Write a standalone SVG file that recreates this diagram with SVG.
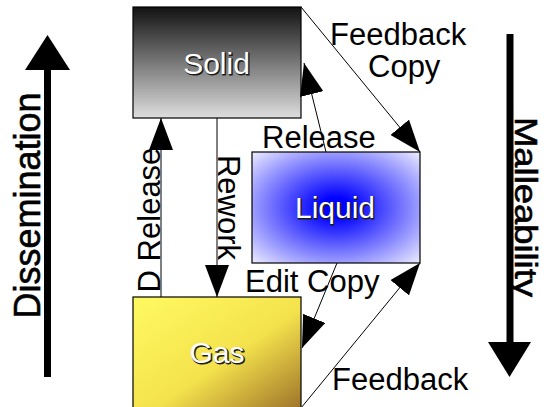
<svg xmlns="http://www.w3.org/2000/svg" width="546" height="407" viewBox="0 0 546 407">
  <defs>
    <linearGradient id="solidFill" x1="0" y1="0" x2="0" y2="1">
      <stop offset="0" stop-color="#121212"/>
      <stop offset="1" stop-color="#dedede"/>
    </linearGradient>
    <radialGradient id="liquidFill" cx="0.5" cy="0.5" r="0.72">
      <stop offset="0" stop-color="#0000ff"/>
      <stop offset="0.12" stop-color="#0000ff"/>
      <stop offset="1" stop-color="#f2f2ff"/>
    </radialGradient>
    <linearGradient id="gasFill" x1="0" y1="0" x2="1" y2="1">
      <stop offset="0" stop-color="#fffa62"/>
      <stop offset="0.55" stop-color="#f4e24c"/>
      <stop offset="1" stop-color="#9c7028"/>
    </linearGradient>
    <marker id="head" markerUnits="userSpaceOnUse" markerWidth="32" markerHeight="24" refX="32" refY="12" orient="auto">
      <path d="M0,0 L32,12 L0,24 Z" fill="#000"/>
    </marker>
  </defs>
  <style>
    .box { stroke: #000; stroke-width: 1.2; }
    .name { font-family: "Liberation Sans", Arial, sans-serif; font-size: 30px; text-anchor: middle; }
    .name-shadow { fill: #1a1a1a; stroke: #1a1a1a; stroke-width: 1; }
    .name-face { fill: #ffffff; }
    .edge { fill: none; stroke: #000; stroke-width: 1; marker-end: url(#head); }
    .label { font-family: "Liberation Sans", Arial, sans-serif; font-size: 31px; fill: #000; }
    .axis-text { font-family: "Liberation Sans", Arial, sans-serif; fill: #000; text-anchor: middle; stroke: #000; stroke-width: 0.6; }
  </style>

  <rect width="546" height="407" fill="#ffffff"/>

  <!-- Dissemination axis (upward) -->
  <g id="axis-dissemination">
    <rect x="44" y="68" width="7" height="309" fill="#000"/>
    <polygon points="47.5,35 70,70 25,70" fill="#000"/>
    <text class="axis-text" font-size="36" transform="translate(40,205.5) rotate(-90)">Dissemination</text>
  </g>

  <!-- Malleability axis (downward) -->
  <g id="axis-malleability">
    <rect x="506.5" y="34" width="7" height="310" fill="#000"/>
    <polygon points="488,342 531,342 509.5,377" fill="#000"/>
    <text class="axis-text" font-size="32" textLength="180" lengthAdjust="spacingAndGlyphs" transform="translate(515,207) rotate(90)">Malleability</text>
  </g>

  <!-- States -->
  <g id="node-solid">
    <rect class="box" x="133" y="7" width="168" height="111" fill="url(#solidFill)"/>
    <text class="name name-shadow" x="217.5" y="75">Solid</text>
    <text class="name name-face" x="216.5" y="74" fill="#eeeeee">Solid</text>
  </g>

  <g id="node-liquid">
    <rect class="box" x="252" y="152" width="168" height="111" fill="url(#liquidFill)"/>
    <text class="name name-shadow" x="336" y="219">Liquid</text>
    <text class="name name-face" x="335" y="218">Liquid</text>
  </g>

  <g id="node-gas">
    <rect class="box" x="133" y="297" width="168" height="115" fill="url(#gasFill)"/>
    <text class="name name-shadow" x="218" y="364">Gas</text>
    <text class="name name-face" x="217" y="363">Gas</text>
  </g>

  <!-- Transitions -->
  <g id="connectors">
    <line class="edge" x1="161" y1="297" x2="161" y2="118"/>
    <line class="edge" x1="217" y1="118" x2="217" y2="297"/>
    <line class="edge" x1="301" y1="7" x2="420" y2="152"/>
    <line class="edge" x1="326" y1="152" x2="304" y2="63"/>
    <line class="edge" x1="337" y1="263" x2="302" y2="348"/>
    <line class="edge" x1="301" y1="408" x2="420" y2="263"/>
  </g>

  <g id="connector-labels">
    <text class="label" transform="translate(160,220) rotate(-90)" text-anchor="middle">D Release</text>
    <text class="label" transform="translate(218,207.5) rotate(90)" text-anchor="middle">Rework</text>
    <text class="label" x="330" y="45">Feedback</text>
    <text class="label" x="368" y="77">Copy</text>
    <text class="label" x="262" y="148">Release</text>
    <text class="label" x="245" y="292">Edit Copy</text>
    <text class="label" x="332" y="390">Feedback</text>
  </g>
</svg>
